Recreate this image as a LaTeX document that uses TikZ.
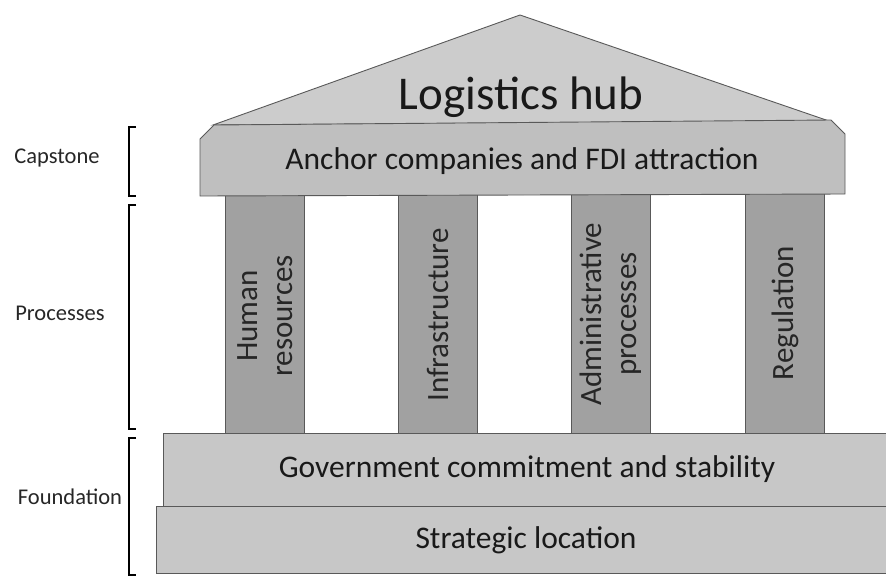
\documentclass[tikz,border=0pt]{standalone}
\usepackage{fontspec}
\setmainfont{Carlito}
\begin{document}
\begin{tikzpicture}[x=1pt,y=-1pt,
  edge/.style={draw=black!65,line width=0.9pt},
  roofc/.style={edge,fill=black!20},
  capc/.style={edge,fill=black!25},
  pillar/.style={edge,fill=black!37,minimum width=79pt,minimum height=242pt,inner sep=0pt},
  basec/.style={edge,fill=black!22},
  lbl/.style={font=\fontsize{22.5}{24}\selectfont,text=black!85},
  brk/.style={draw=black,line width=1.2pt},
  big/.style={font=\fontsize{31.5}{33}\selectfont,text=black!90},
  ptext/.style={font=\fontsize{31}{35}\selectfont,text=black!85,align=center,rotate=90}]
\useasboundingbox (0,0) rectangle (886,576);
% roof
\path[roofc] (520,15) -- (829,121) -- (213,125) -- cycle;
\node[font=\fontsize{47}{49}\selectfont,text=black!90] (hub) at (521,97) {Logistics hub};
% pillars
\node[pillar] (p1) at (265,316) {};
\node[pillar] (p2) at (438,315) {};
\node[pillar] (p3) at (611,314) {};
\node[pillar] (p4) at (785,313) {};
\node[ptext] (t1) at (p1) {Human\\resources};
\node[ptext] (t2) at (p2) {Infrastructure};
\node[ptext] (t3) at (p3) {Administrative\\processes};
\node[ptext] (t4) at (p4) {Regulation};
% capstone
\path[capc] (200,196) -- (200,139) -- (214,125) -- (831,120) -- (845,134) -- (845,194) -- cycle;
\node[big] (cap) at (522,161) {Anchor companies and FDI attraction};
% foundation
\path[basec] (163,506) rectangle (890,433);
\node[big] (gov) at (527,469) {Government commitment and stability};
\path[basec] (156,573) rectangle (890,506);
\node[big] (loc) at (526,540) {Strategic location};
% left labels and brackets
\node[lbl] (lcap) at (57,158) {Capstone};
\node[lbl] (lproc) at (60,313) {Processes};
\node[lbl] (lfound) at (70,497) {Foundation};
\coordinate (b1t) at (129,127); \coordinate (b1b) at (129,196);
\coordinate (b2t) at (129,205); \coordinate (b2b) at (129,429);
\coordinate (b3t) at (129,438); \coordinate (b3b) at (129,575);
\draw[brk] ([xshift=7pt]b1t) -- (b1t) -- (b1b) -- ([xshift=7pt]b1b);
\draw[brk] ([xshift=7pt]b2t) -- (b2t) -- (b2b) -- ([xshift=7pt]b2b);
\draw[brk] ([xshift=7pt]b3t) -- (b3t) -- (b3b) -- ([xshift=7pt]b3b);
\end{tikzpicture}
\end{document}
